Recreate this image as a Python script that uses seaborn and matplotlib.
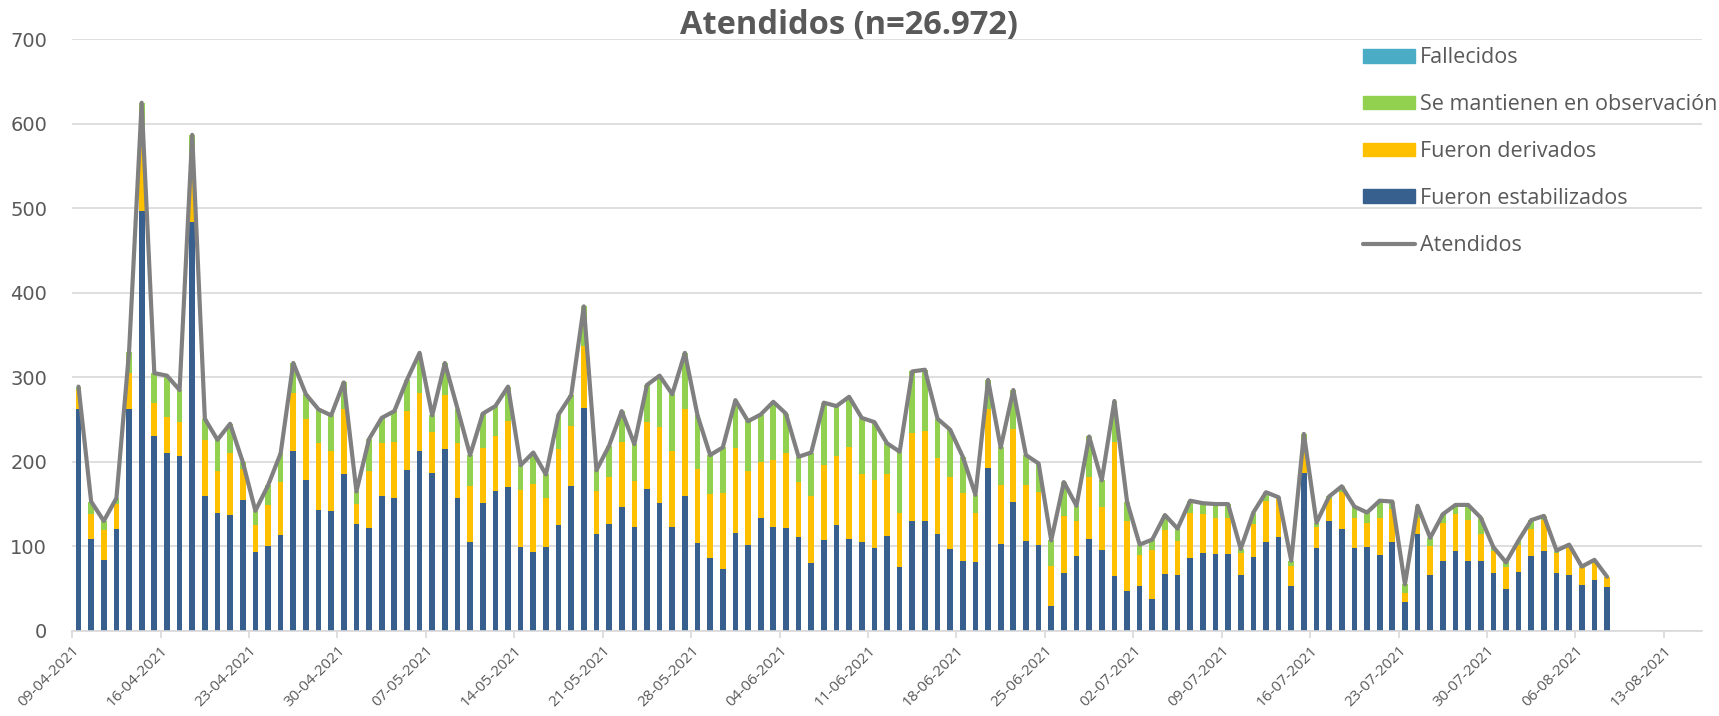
# Atendidos por día, barras apiladas + línea total

import pandas as pd
import seaborn as sns
import matplotlib.pyplot as plt
from matplotlib.patches import Patch
from matplotlib.lines import Line2D

# one bar per day, 09-04-2021 to 08-08-2021
fechas = pd.date_range('2021-04-09', '2021-08-08', freq='D')

estabilizados = [263, 109, 84, 121, 262, 497, 231, 211, 207, 484,
                 160, 139, 137, 155, 93, 100, 113, 213, 179, 143,
                 142, 185, 126, 122, 160, 157, 190, 213, 187, 215,
                 157, 105, 151, 165, 170, 99, 93, 99, 125, 171,
                 264, 114, 126, 146, 123, 168, 151, 123, 159, 104,
                 86, 73, 116, 101, 134, 123, 122, 111, 80, 107,
                 125, 109, 105, 98, 112, 76, 130, 130, 114, 97,
                 83, 81, 193, 103, 152, 106, 101, 29, 68, 88,
                 109, 96, 65, 47, 53, 38, 67, 66, 86, 92,
                 91, 91, 66, 87, 105, 111, 53, 187, 98, 130,
                 121, 98, 99, 90, 105, 34, 115, 66, 83, 94,
                 83, 83, 68, 50, 69, 88, 95, 68, 66, 54,
                 60, 52]

derivados = [22, 29, 35, 29, 43, 78, 39, 42, 40, 56,
             66, 50, 74, 37, 32, 49, 63, 68, 72, 79,
             71, 77, 24, 67, 62, 67, 70, 68, 48, 64,
             65, 66, 65, 65, 78, 68, 81, 58, 90, 71,
             73, 51, 56, 78, 54, 79, 90, 90, 103, 88,
             76, 90, 100, 88, 66, 79, 88, 65, 80, 89,
             82, 109, 80, 80, 73, 64, 104, 106, 90, 85,
             80, 59, 69, 70, 87, 67, 63, 48, 68, 42,
             73, 51, 158, 83, 37, 58, 52, 40, 54, 46,
             43, 43, 26, 39, 49, 45, 24, 24, 25, 26,
             43, 36, 29, 44, 39, 11, 19, 34, 45, 44,
             48, 31, 27, 26, 33, 33, 36, 24, 33, 20,
             20, 12]

observacion = [4, 15, 11, 7, 25, 50, 35, 49, 38, 47,
               25, 37, 34, 8, 17, 23, 34, 36, 29, 40,
               42, 32, 15, 38, 30, 36, 37, 48, 20, 38,
               41, 37, 41, 36, 41, 29, 37, 28, 41, 37,
               47, 25, 37, 36, 44, 44, 61, 67, 67, 63,
               46, 54, 57, 59, 56, 69, 47, 30, 51, 74,
               59, 59, 67, 69, 37, 72, 73, 73, 47, 56,
               43, 21, 35, 44, 46, 35, 34, 30, 40, 18,
               48, 31, 49, 23, 12, 12, 18, 15, 14, 13,
               16, 16, 5, 14, 10, 2, 6, 22, 5, 3,
               7, 13, 12, 20, 9, 10, 14, 10, 10, 11,
               18, 20, 4, 5, 5, 10, 5, 3, 3, 2,
               4, 0]

fallecidos = [0, 0, 0, 0, 0, 0, 0, 0, 0, 0,
              0, 0, 0, 0, 0, 0, 0, 0, 0, 0,
              0, 0, 0, 0, 0, 0, 0, 0, 0, 0,
              0, 0, 0, 0, 0, 0, 0, 0, 0, 0,
              0, 0, 0, 0, 0, 0, 0, 0, 0, 0,
              0, 0, 0, 0, 0, 0, 0, 0, 0, 0,
              0, 0, 0, 0, 0, 0, 0, 0, 0, 0,
              0, 0, 0, 0, 0, 0, 0, 0, 0, 0,
              0, 0, 0, 0, 0, 0, 0, 0, 0, 0,
              0, 0, 0, 0, 0, 0, 0, 0, 0, 0,
              0, 0, 0, 0, 0, 0, 0, 0, 0, 0,
              0, 0, 0, 0, 0, 0, 0, 0, 0, 0,
              0, 0]

azul = '#38608F'
amarillo = '#FFC000'
verde = '#92D050'
celeste = '#4BACC6'
gris = '#808080'
texto = '#595959'

df = pd.DataFrame({'fecha': fechas, 'est': estabilizados, 'der': derivados,
                   'obs': observacion, 'fal': fallecidos})
# bar centred in the middle of its day, like the excel date axis
df['x'] = (df['fecha'] - fechas[0]).dt.days + 0.5
df['c1'] = df['est']
df['c2'] = df['c1'] + df['der']
df['c3'] = df['c2'] + df['obs']
df['total'] = df['c3'] + df['fal']

sns.set_style("whitegrid")
plt.rcParams['font.family'] = ['Open Sans', 'DejaVu Sans']

fig, ax = plt.subplots(figsize=(17.19, 7.16), dpi=100)
fig.subplots_adjust(left=0.042, right=0.990, top=0.945, bottom=0.119)

# stacked look: tallest first, then overdraw
for col, c in [('total', celeste), ('c3', verde), ('c2', amarillo), ('c1', azul)]:
    sns.barplot(data=df, x='x', y=col, native_scale=True, color=c, saturation=1,
                width=0.45, errorbar=None, linewidth=0, ax=ax)

sns.lineplot(data=df, x='x', y='total', color=gris, linewidth=3, ax=ax)

ticks = pd.date_range('2021-04-09', '2021-08-13', freq='7D')
ax.set_xticks([(t - fechas[0]).days for t in ticks])
ax.set_xticklabels([t.strftime('%d-%m-%Y') for t in ticks], rotation=45,
                   ha='right', rotation_mode='anchor')
ax.set_xlim(0, 129)
ax.set_ylim(0, 700)
ax.set_yticks(range(0, 701, 100))
ax.set_xlabel('')
ax.set_ylabel('')

ax.grid(axis='x', visible=False)
ax.grid(axis='y', color='#D9D9D9', linewidth=1.2)
for s in ['left', 'right', 'top']:
    ax.spines[s].set_visible(False)
ax.spines['bottom'].set_color('#D9D9D9')
ax.spines['bottom'].set_linewidth(1.2)
ax.tick_params(axis='x', colors='#D9D9D9', length=5, width=1.2, direction='out',
               labelcolor=texto, labelsize=11, pad=4, bottom=True)
ax.tick_params(axis='y', length=0, labelcolor=texto, labelsize=14, pad=18)
for t in ax.get_yticklabels():
    t.set_family('DejaVu Sans')

fig.suptitle('Atendidos (n=26.972)', x=0.494, y=0.987, fontsize=23.5,
             fontweight='bold', color=texto)

handles = [Patch(color=celeste), Patch(color=verde), Patch(color=amarillo),
           Patch(color=azul), Line2D([0], [0], color=gris, linewidth=3)]
labels = ['Fallecidos', 'Se mantienen en observación', 'Fueron derivados',
          'Fueron estabilizados', 'Atendidos']
leg = ax.legend(handles, labels, loc='upper left', bbox_to_anchor=(0.787, 1.001),
                frameon=False, fontsize=15.5, labelspacing=1.2, handlelength=2.4,
                handleheight=0.6, handletextpad=0.25, borderaxespad=0)
for t in leg.get_texts():
    t.set_color(texto)

plt.savefig('out.png', dpi=100)
